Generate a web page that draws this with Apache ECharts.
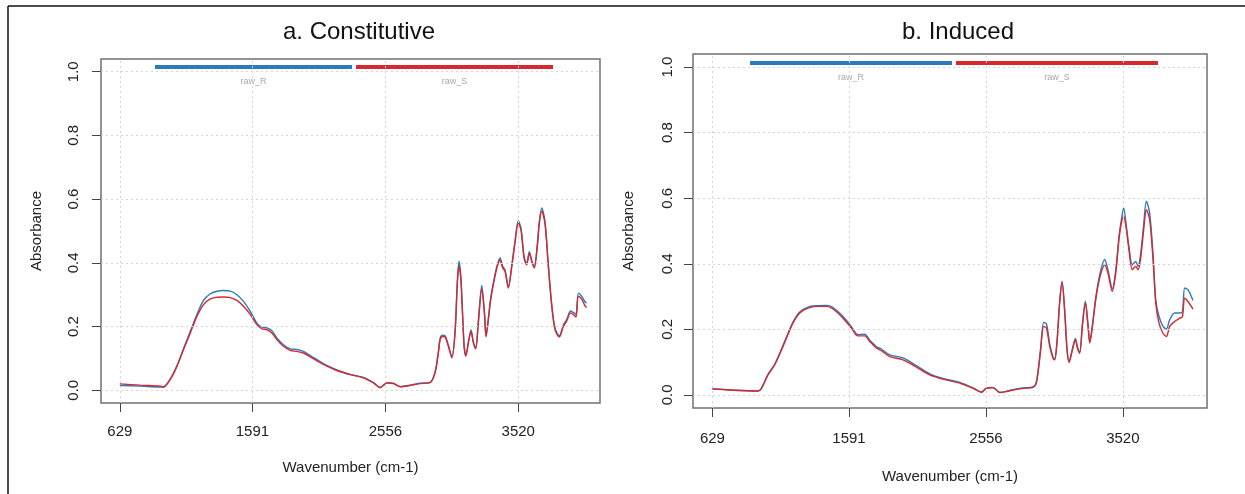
<!DOCTYPE html>
<html>
<head>
<meta charset="utf-8">
<script src="https://cdn.jsdelivr.net/npm/echarts@6/dist/echarts.min.js"></script>
<style>
html,body{margin:0;padding:0;background:#fff;}
#chart{width:1245px;height:494px;}
</style>
</head>
<body>
<div id="chart"></div>
<script>
// ---- data ----
const xTicks = [629, 1591, 2556, 3520];
const yTicks = [0, 0.2, 0.4, 0.6, 0.8, 1.0];
const seriesNames = ['raw_R', 'raw_S'];
const panelTitles = ['a. Constitutive', 'b. Induced'];

const wnA = [629, 777, 922, 946, 994, 1043, 1091, 1140, 1188, 1236, 1285, 1333, 1381, 1430, 1478, 1526, 1575, 1623, 1660, 1696, 1732, 1768, 1816, 1865, 1913, 1961, 2010, 2106, 2203, 2300, 2396, 2469, 2517, 2541, 2566, 2614, 2663, 2735, 2808, 2880, 2916, 2940, 2953, 2969, 2989, 3013, 3038, 3061, 3078, 3090, 3103, 3114, 3127, 3139, 3158, 3177, 3194, 3211, 3230, 3255, 3274, 3286, 3303, 3320, 3351, 3371, 3388, 3407, 3424, 3448, 3473, 3496, 3520, 3540, 3562, 3581, 3600, 3620, 3636, 3658, 3673, 3690, 3714, 3738, 3763, 3787, 3818, 3847, 3871, 3900, 3924, 3939, 3956, 3980, 4004, 4016];
const rawR_A = [0.015, 0.013, 0.010, 0.010, 0.035, 0.077, 0.131, 0.185, 0.238, 0.282, 0.303, 0.311, 0.313, 0.311, 0.300, 0.279, 0.248, 0.211, 0.198, 0.196, 0.187, 0.164, 0.143, 0.130, 0.128, 0.122, 0.109, 0.084, 0.064, 0.050, 0.040, 0.024, 0.009, 0.016, 0.024, 0.022, 0.012, 0.016, 0.022, 0.025, 0.057, 0.120, 0.163, 0.173, 0.171, 0.141, 0.104, 0.183, 0.345, 0.405, 0.360, 0.258, 0.140, 0.109, 0.152, 0.189, 0.152, 0.133, 0.216, 0.329, 0.248, 0.171, 0.226, 0.290, 0.363, 0.399, 0.415, 0.389, 0.378, 0.325, 0.393, 0.467, 0.532, 0.508, 0.420, 0.398, 0.435, 0.404, 0.388, 0.457, 0.530, 0.572, 0.530, 0.394, 0.268, 0.194, 0.171, 0.205, 0.222, 0.249, 0.243, 0.238, 0.305, 0.295, 0.278, 0.274];
const rawS_A = [0.020, 0.016, 0.013, 0.011, 0.034, 0.075, 0.128, 0.180, 0.232, 0.269, 0.287, 0.292, 0.293, 0.291, 0.282, 0.264, 0.238, 0.206, 0.193, 0.190, 0.180, 0.159, 0.138, 0.125, 0.122, 0.117, 0.105, 0.081, 0.062, 0.049, 0.039, 0.023, 0.008, 0.015, 0.023, 0.021, 0.011, 0.015, 0.021, 0.024, 0.055, 0.117, 0.159, 0.169, 0.167, 0.138, 0.102, 0.180, 0.337, 0.390, 0.350, 0.253, 0.138, 0.107, 0.149, 0.185, 0.149, 0.130, 0.211, 0.318, 0.243, 0.168, 0.222, 0.285, 0.358, 0.394, 0.408, 0.384, 0.373, 0.321, 0.389, 0.462, 0.525, 0.502, 0.415, 0.394, 0.430, 0.400, 0.384, 0.452, 0.525, 0.562, 0.522, 0.389, 0.264, 0.190, 0.167, 0.200, 0.217, 0.243, 0.236, 0.230, 0.295, 0.286, 0.265, 0.260];

const wnB = [629, 751, 950, 974, 1020, 1068, 1115, 1150, 1196, 1244, 1302, 1361, 1432, 1478, 1549, 1608, 1654, 1702, 1737, 1784, 1819, 1878, 1971, 2066, 2160, 2253, 2371, 2465, 2524, 2559, 2605, 2653, 2700, 2746, 2817, 2887, 2911, 2939, 2963, 2982, 3005, 3028, 3040, 3056, 3075, 3092, 3111, 3127, 3141, 3165, 3186, 3200, 3216, 3235, 3256, 3275, 3287, 3306, 3329, 3357, 3392, 3415, 3446, 3470, 3493, 3510, 3526, 3545, 3563, 3587, 3611, 3627, 3644, 3667, 3686, 3709, 3733, 3752, 3775, 3803, 3827, 3850, 3885, 3921, 3940, 3956, 3979, 4014];
const rawR_B = [0.019, 0.015, 0.012, 0.020, 0.062, 0.094, 0.139, 0.176, 0.222, 0.253, 0.268, 0.272, 0.273, 0.266, 0.239, 0.208, 0.184, 0.185, 0.167, 0.147, 0.140, 0.122, 0.113, 0.089, 0.064, 0.050, 0.038, 0.021, 0.009, 0.021, 0.023, 0.008, 0.011, 0.016, 0.021, 0.024, 0.040, 0.135, 0.221, 0.217, 0.155, 0.116, 0.110, 0.162, 0.285, 0.347, 0.255, 0.140, 0.102, 0.141, 0.172, 0.147, 0.131, 0.214, 0.286, 0.214, 0.162, 0.214, 0.296, 0.366, 0.413, 0.382, 0.324, 0.380, 0.484, 0.535, 0.570, 0.514, 0.453, 0.397, 0.407, 0.392, 0.425, 0.519, 0.591, 0.555, 0.428, 0.290, 0.239, 0.209, 0.201, 0.229, 0.250, 0.250, 0.254, 0.326, 0.321, 0.288];
const rawS_B = [0.018, 0.015, 0.012, 0.020, 0.061, 0.092, 0.137, 0.173, 0.219, 0.250, 0.265, 0.270, 0.270, 0.262, 0.234, 0.204, 0.180, 0.180, 0.163, 0.143, 0.135, 0.117, 0.107, 0.085, 0.061, 0.048, 0.036, 0.020, 0.008, 0.020, 0.022, 0.007, 0.010, 0.015, 0.020, 0.023, 0.036, 0.127, 0.209, 0.204, 0.148, 0.112, 0.107, 0.158, 0.280, 0.343, 0.250, 0.137, 0.099, 0.137, 0.168, 0.143, 0.127, 0.209, 0.280, 0.209, 0.158, 0.209, 0.290, 0.356, 0.397, 0.372, 0.316, 0.372, 0.474, 0.525, 0.545, 0.504, 0.443, 0.382, 0.392, 0.382, 0.412, 0.504, 0.565, 0.535, 0.412, 0.280, 0.219, 0.188, 0.178, 0.209, 0.224, 0.234, 0.239, 0.295, 0.285, 0.262];

// ---- style ----
const FONT = '"Liberation Sans", Arial, sans-serif';
const BLUE = '#2b7bba';
const RED = '#d7282f';
const TXT = '#222';

const chart = echarts.init(document.getElementById('chart'), null, {renderer: 'canvas'});

const grids = [
  {left: 101, top: 59, width: 499, height: 344},
  {left: 693, top: 54, width: 514, height: 354}
];
const xNameGaps = [57, 61];
const xLabelMargins = [21, 23];
const yLabelMargins = [20, 18];

function pairs(xs, ys) { return xs.map((x, i) => [x, ys[i]]); }

const xAxes = grids.map((g, i) => ({
  type: 'value', gridIndex: i, min: 492, max: 4113,
  axisLine: {show: false, onZero: false},
  splitLine: {show: false},
  axisTick: {show: true, length: 9, customValues: xTicks, lineStyle: {color: '#444', width: 1}},
  axisLabel: {customValues: xTicks, margin: xLabelMargins[i], fontSize: 15, color: TXT, fontFamily: FONT,
              formatter: v => String(v)},
  name: 'Wavenumber (cm-1)', nameLocation: 'middle', nameGap: xNameGaps[i],
  nameTextStyle: {fontSize: 15, color: TXT, fontFamily: FONT}
}));
const yAxes = grids.map((g, i) => ({
  type: 'value', gridIndex: i, min: -0.04, max: 1.04,
  axisLine: {show: false, onZero: false},
  splitLine: {show: false},
  axisTick: {show: true, length: 9, customValues: yTicks, lineStyle: {color: '#444', width: 1}},
  axisLabel: {customValues: yTicks, rotate: 90, margin: yLabelMargins[i], fontSize: 15, color: TXT, fontFamily: FONT,
              formatter: v => v.toFixed(1)},
  name: 'Absorbance', nameLocation: 'middle', nameGap: 57,
  nameTextStyle: {fontSize: 15, color: TXT, fontFamily: FONT}
}));

const panels = [[wnA, rawR_A, rawS_A], [wnB, rawR_B, rawS_B]];
const series = [];
panels.forEach((p, i) => {
  series.push({
    type: 'line', xAxisIndex: i, yAxisIndex: i, data: [], silent: true, z: 1,
    markLine: {
      silent: true, symbol: ['none', 'none'], label: {show: false}, animation: false,
      lineStyle: {type: [2, 3], color: '#d4d4d4', width: 1},
      emphasis: {disabled: true},
      data: xTicks.map(v => ({xAxis: v})).concat(yTicks.map(v => ({yAxis: v})))
    }
  });
  series.push({
    name: seriesNames[0], type: 'line', xAxisIndex: i, yAxisIndex: i,
    data: pairs(p[0], p[1]), showSymbol: false, smooth: 0.3, z: 3,
    lineStyle: {color: BLUE, width: 1.4}, itemStyle: {color: BLUE}
  });
  series.push({
    name: seriesNames[1], type: 'line', xAxisIndex: i, yAxisIndex: i,
    data: pairs(p[0], p[2]), showSymbol: false, smooth: 0.3, z: 4,
    lineStyle: {color: RED, width: 1.4}, itemStyle: {color: RED}
  });
});

// legend bars drawn as graphics (R-style legend with labels below the lines)
const legendGeo = [
  {y: 67, blue: [155, 352], red: [356, 553], ly: 82},
  {y: 63, blue: [750, 952], red: [956, 1158], ly: 78}
];
const graphics = [
  {type: 'line', shape: {x1: 8, y1: 6, x2: 1245, y2: 6}, style: {stroke: '#111', lineWidth: 1.5}},
  {type: 'line', shape: {x1: 8, y1: 6, x2: 8, y2: 494}, style: {stroke: '#111', lineWidth: 1.5}}
];
legendGeo.forEach(l => {
  [[l.blue, BLUE, seriesNames[0]], [l.red, RED, seriesNames[1]]].forEach(([r, c, n]) => {
    graphics.push({type: 'rect', shape: {x: r[0], y: l.y - 2, width: r[1] - r[0], height: 4}, style: {fill: c}});
    graphics.push({type: 'text', x: (r[0] + r[1]) / 2, y: l.ly,
      style: {text: n, fill: '#a8a8a8', font: '9px ' + FONT, align: 'center', verticalAlign: 'middle'}});
  });
});

const option = {
  backgroundColor: '#fff',
  animation: false,
  title: [
    {text: panelTitles[0], left: 354, top: 15, textAlign: 'center',
     textStyle: {fontSize: 24, fontWeight: 'normal', color: '#111', fontFamily: FONT}},
    {text: panelTitles[1], left: 953, top: 15, textAlign: 'center',
     textStyle: {fontSize: 24, fontWeight: 'normal', color: '#111', fontFamily: FONT}}
  ],
  grid: grids.map(g => Object.assign({show: true, borderColor: '#707070', borderWidth: 1.5, backgroundColor: 'transparent'}, g)),
  xAxis: xAxes,
  yAxis: yAxes,
  series: series,
  graphic: graphics
};
chart.setOption(option);
</script>
</body>
</html>
